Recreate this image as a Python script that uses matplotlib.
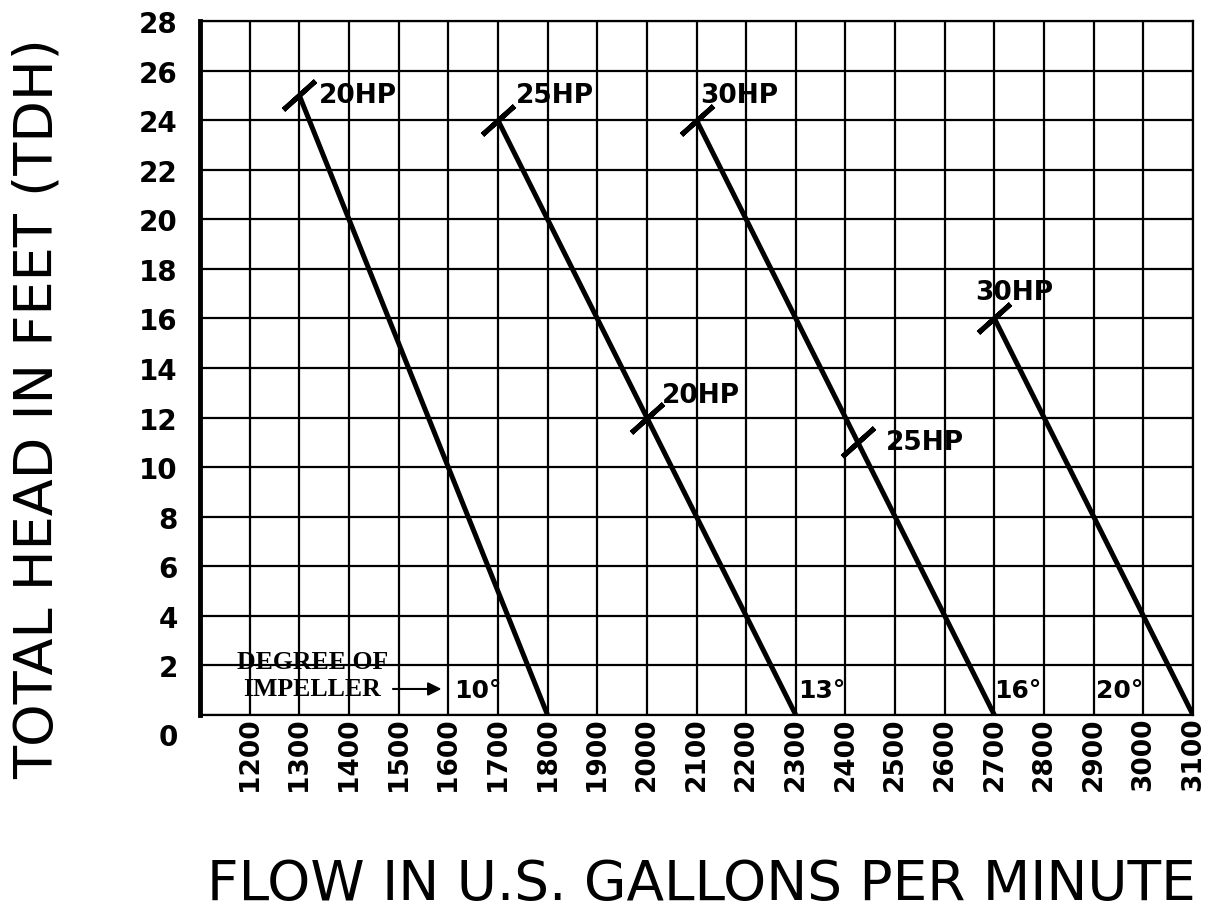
import matplotlib.pyplot as plt
import matplotlib.transforms as mtransforms

# curvas por grado de impulsor: (gpm, pies) en los extremos
grados = ["10°", "13°", "16°", "20°"]
flujo_inicio = [1300, 1700, 2100, 2700]
altura_inicio = [25, 24, 24, 16]
flujo_fin = [1800, 2300, 2700, 3100]

# marcas de potencia
hp_etiquetas = ["20HP", "25HP", "30HP", "20HP", "25HP", "30HP"]
hp_flujo = [1300, 1700, 2100, 2000, 2425, 2700]
hp_altura = [25, 24, 24, 12, 11, 16]

# posiciones de las etiquetas de grado
grado_x = [1612, 2305, 2700, 2905]
grado_y = [1.0, 1.0, 1.0, 1.0]

xticks = list(range(1200, 3101, 100))
yticks = list(range(0, 29, 2))

fig = plt.figure(figsize=(12.09, 9.12), dpi=100)
ax = fig.add_axes([200 / 1209, 1 - 716 / 912, 993 / 1209, 694 / 912])
ax.set_xlim(1100, 3100)
ax.set_ylim(0, 28)

# rejilla
for x in xticks:
    ax.axvline(x, color="black", lw=1.6, zorder=1)
for y in yticks:
    ax.axhline(y, color="black", lw=1.6, zorder=1)

for sp in ["top", "bottom", "right"]:
    ax.spines[sp].set_linewidth(1.6)
ax.spines["left"].set_linewidth(3.5)

for x0, y0, x1 in zip(flujo_inicio, altura_inicio, flujo_fin):
    ax.plot([x0, x1], [y0, 0], color="black", lw=3.6, solid_capstyle="butt", zorder=3)

ax.plot(hp_flujo, hp_altura, linestyle="none", marker=(2, 2, -48), markersize=31,
        markeredgewidth=3.6, color="black", zorder=4)

bloque = dict(fontsize=19, fontweight="bold", family="DejaVu Sans", color="black")
desp = [(14, 0), (13, 18), (3, 18), (11, 16.5), (20, 0), (-14, 19)]
for lab, x, y, (dx, dy) in zip(hp_etiquetas, hp_flujo, hp_altura, desp):
    ax.annotate(lab, (x, y), xytext=(dx, dy), textcoords="offset points",
                ha="left", va="center", zorder=5, **bloque)

for g, x, y in zip(grados, grado_x, grado_y):
    ax.text(x, y, g, ha="left", va="center", zorder=5, fontsize=18, fontweight="bold",
            family="DejaVu Sans")

ax.text(1326, 1.62, "DEGREE OF\nIMPELLER", ha="center", va="center", fontsize=18.5,
        fontweight="bold", family="Liberation Serif", linespacing=1.25, zorder=5)
ax.annotate("", xy=(1592, 1.05), xytext=(1483, 1.05),
            arrowprops=dict(arrowstyle="-|>", color="black", lw=1.5, mutation_scale=20))

ax.set_xticks(xticks)
ax.set_yticks(yticks)
ax.tick_params(length=0)
ax.set_xticklabels([str(v) for v in xticks], rotation=90, fontsize=19, fontweight="bold")
ax.set_yticklabels([str(v) for v in yticks], fontsize=20, fontweight="bold")
ax.tick_params(axis="x", pad=1)
ax.tick_params(axis="y", pad=16)
# el 0 va algo más abajo
cero = ax.get_yticklabels()[0]
cero.set_transform(cero.get_transform() + mtransforms.ScaledTranslation(0, -0.19, fig.dpi_scale_trans))

fig.text(38 / 1209, 1 - 409 / 912, "TOTAL HEAD IN FEET (TDH)", rotation=90, ha="center",
         va="center", fontsize=39, family="DejaVu Sans")
fig.text(701 / 1209, 1 - 885 / 912, "FLOW IN U.S. GALLONS PER MINUTE", ha="center",
         va="center", fontsize=39.5, family="DejaVu Sans")

fig.savefig("out.png", dpi=100)
